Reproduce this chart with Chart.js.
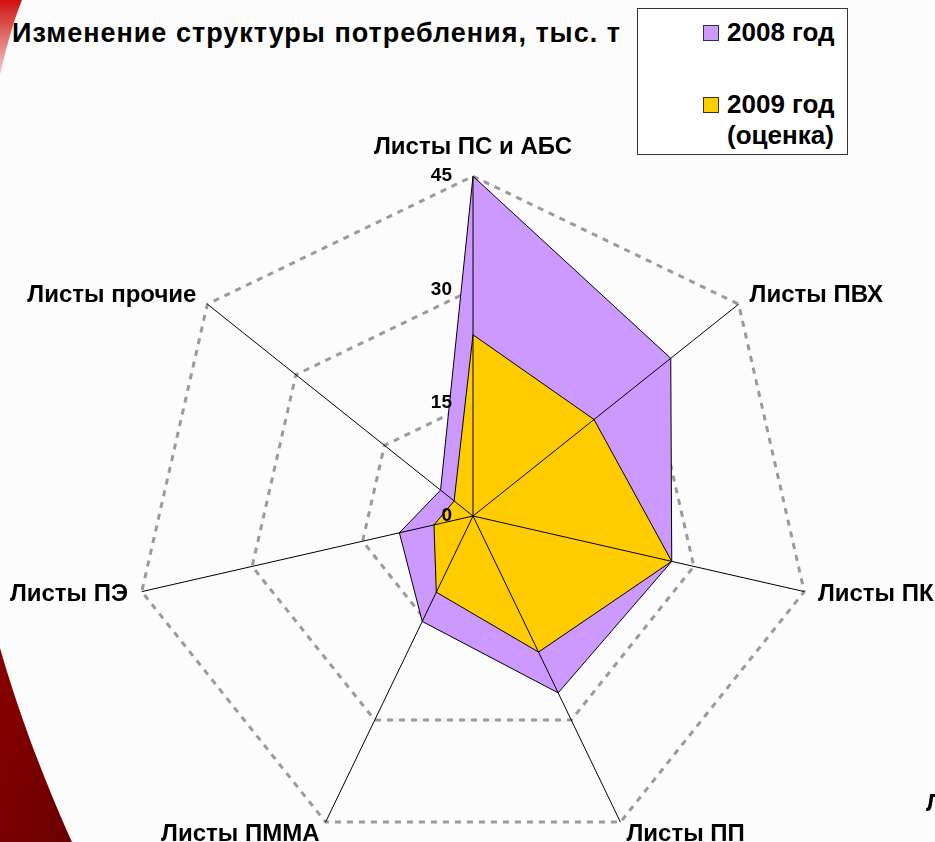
<!DOCTYPE html>
<html lang="ru">
<head>
<meta charset="utf-8">
<title>Изменение структуры потребления</title>
<script src="https://cdn.jsdelivr.net/npm/chart.js@4/dist/chart.umd.min.js"></script>
<style>
  html, body { margin: 0; padding: 0; }
  body {
    width: 935px; height: 842px; overflow: hidden; position: relative;
    background: #fcfcfc;
    font-family: "Liberation Sans", Arial, sans-serif;
  }
  #decor { position: absolute; left: 0; top: 0; z-index: 0; }
  #chart { position: absolute; left: -127px; top: 133px; z-index: 1; }
  #title {
    position: absolute; left: 12px; top: 18px; z-index: 2;
    font-weight: bold; font-size: 27px; letter-spacing: 1px; color: #000; white-space: nowrap;
  }
  #legend {
    position: absolute; left: 637px; top: 8px; width: 211px; height: 147px;
    border: 1px solid #333; background: #fff; z-index: 2; box-sizing: border-box;
  }
  .item { position: absolute; left: 65px; font-weight: bold; font-size: 26px; line-height: 31px; }
  .item .box {
    position: absolute; left: 0; top: 8px; width: 14px; height: 14px; border: 1px solid #333;
  }
  .item .txt { margin-left: 24px; display: block; }
  #cut {
    position: absolute; left: 926px; top: 789px; z-index: 2;
    font-weight: bold; font-size: 24px; white-space: nowrap;
  }
</style>
</head>
<body>
<svg id="decor" width="935" height="842">
  <defs>
    <linearGradient id="redBottom" x1="0" y1="0" x2="1" y2="1">
      <stop offset="0" stop-color="#8a0000"/>
      <stop offset="1" stop-color="#6a0000"/>
    </linearGradient>
    <linearGradient id="redTop" x1="0" y1="0" x2="0" y2="1">
      <stop offset="0" stop-color="#d01010"/>
      <stop offset="1" stop-color="#f4d0d0"/>
    </linearGradient>
  </defs>
  <path d="M0,648 C12,690 35,760 72,842 L0,842 Z" fill="url(#redBottom)"/>
  <path d="M0,0 L22,0 Q10,30 0,75 Z" fill="url(#redTop)"/>
</svg>
<div id="title">Изменение структуры потребления, тыс. т</div>
<div id="legend"></div>
<div id="cut">Листы</div>
<canvas id="chart" width="1200" height="738"></canvas>
<script>
const categories = ['Листы ПС и АБС', 'Листы ПВХ', 'Листы ПК', 'Листы ПП', 'Листы ПММА', 'Листы ПЭ', 'Листы прочие'];
const values2008 = [45, 33.5, 27, 26, 15.5, 10, 5.5];
const values2009 = [24, 20.5, 27, 20, 11.2, 5.3, 3.2];
const tickValues = [0, 15, 30, 45];
const seriesNames = [['2008 год'], ['2009 год', '(оценка)']];
const seriesColors = ['#cc99ff', '#ffcc00'];

const fontFamily = '"Liberation Sans", Arial, sans-serif';

// legend as plain text next to the chart
const legendEl = document.getElementById('legend');
const legendTops = [8, 80];
seriesNames.forEach((lines, i) => {
  const item = document.createElement('div');
  item.className = 'item';
  item.style.top = legendTops[i] + 'px';
  const box = document.createElement('span');
  box.className = 'box';
  box.style.background = seriesColors[i];
  item.appendChild(box);
  lines.forEach(line => {
    const t = document.createElement('span');
    t.className = 'txt';
    t.textContent = line;
    item.appendChild(t);
  });
  legendEl.appendChild(item);
});

// axis spokes on top of the fills, and the value labels left of the vertical axis
const overlay = {
  id: 'overlay',
  afterDatasetsDraw(chart) {
    const scale = chart.scales.r;
    const ctx = chart.ctx;
    const outer = scale.getDistanceFromCenterForValue(scale.max);
    ctx.save();
    ctx.strokeStyle = '#000';
    ctx.lineWidth = 1;
    ctx.beginPath();
    categories.forEach((c, i) => {
      const p = scale.getPointPosition(i, outer);
      ctx.moveTo(scale.xCenter, scale.yCenter);
      ctx.lineTo(p.x, p.y);
    });
    ctx.stroke();
    ctx.font = 'bold 19px ' + fontFamily;
    ctx.fillStyle = '#000';
    ctx.textAlign = 'right';
    ctx.textBaseline = 'middle';
    tickValues.forEach(v => {
      ctx.fillText(String(v), scale.xCenter - 21, scale.yCenter - scale.getDistanceFromCenterForValue(v));
    });
    ctx.restore();
  }
};

new Chart(document.getElementById('chart'), {
  type: 'radar',
  data: {
    labels: categories,
    datasets: [
      {
        label: seriesNames[0].join(' '),
        data: values2008,
        backgroundColor: seriesColors[0],
        borderColor: '#000',
        borderWidth: 1,
        pointRadius: 0,
        fill: true,
        order: 2
      },
      {
        label: seriesNames[1].join(' '),
        data: values2009,
        backgroundColor: seriesColors[1],
        borderColor: '#000',
        borderWidth: 1,
        pointRadius: 0,
        fill: true,
        order: 1
      }
    ]
  },
  options: {
    responsive: false,
    animation: false,
    plugins: {
      legend: { display: false },
      tooltip: { enabled: false }
    },
    scales: {
      r: {
        min: 0,
        max: 45,
        ticks: { stepSize: 15, display: false },
        grid: { color: '#9a9a9a', lineWidth: 3 },
        border: { dash: [6, 6] },
        angleLines: { display: false },
        pointLabels: {
          color: '#000',
          padding: (ctx) => ctx.index === 0 ? 29 : 14,
          font: { family: fontFamily, size: 24, weight: 'bold', lineHeight: 0.01 }
        }
      }
    }
  },
  plugins: [overlay]
});
</script>
</body>
</html>
